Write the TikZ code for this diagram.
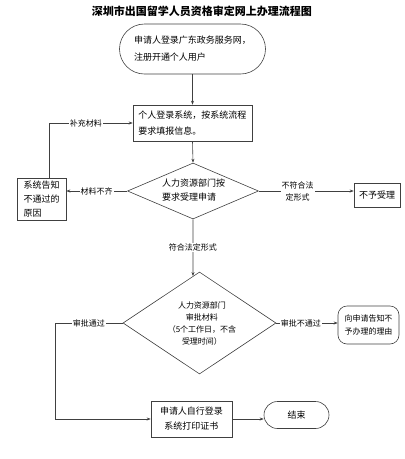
\documentclass[tikz,border=0pt]{standalone}
\usepackage{fontspec}
\setmainfont{Noto Sans CJK SC}
\usetikzlibrary{arrows.meta,shapes.geometric}
\begin{document}
\begin{tikzpicture}[x=1pt,y=-1pt,
  line/.style={draw=black!75, line width=0.6pt},
  arr/.style={line, -{Stealth[length=4pt,width=3pt]}},
  box/.style={draw=black!75, line width=0.6pt, rectangle, inner sep=0pt, align=center},
  dia/.style={draw=black!75, line width=0.6pt, diamond, inner sep=0pt},
  lab/.style={fill=white, inner sep=1pt, align=center, font=\fontsize{8}{12}\selectfont}
]
\useasboundingbox (0,0) rectangle (405,459);

\node[font=\bfseries\fontsize{11}{13}\selectfont] (title) at (202,11) {深圳市出国留学人员资格审定网上办理流程图};

\node[box, minimum width=146pt, minimum height=50pt, rounded corners=25pt, align=left,
  font=\fontsize{9}{17}\selectfont] (start) at (192.5,49) {申请人登录广东政务服务网，\\注册开通个人用户};

\node[box, minimum width=119pt, minimum height=36pt, align=left,
  font=\fontsize{9}{16}\selectfont] (fill) at (192.5,123) {个人登录系统，按系统流程\\要求填报信息。};

\node[dia, minimum width=131pt, minimum height=56pt] (d1) at (193,191) {};
\node[align=left, inner sep=0pt, font=\fontsize{9}{14}\selectfont] (t1) at (193.5,190) {人力资源部门按\\要求受理申请};

\node[box, minimum width=49pt, minimum height=42pt, align=left,
  font=\fontsize{9}{14}\selectfont] (why) at (41.5,199) {系统告知\\不通过的\\原因};

\node[box, minimum width=46pt, minimum height=24pt, font=\fontsize{9}{12}\selectfont] (no) at (377,195) {不予受理};

\node[dia, minimum width=153pt, minimum height=102pt] (d2) at (199.5,323) {};
\node[align=center, inner sep=0pt, font=\fontsize{8}{12}\selectfont] (t2) at (202,324) {人力资源部门\\审批材料\\（5个工作日，不含\\受理时间）};

\node[box, minimum width=61pt, minimum height=38pt, rounded corners=9pt,
  font=\fontsize{8}{13}\selectfont] (rej) at (368.5,325) {向申请告知不\\予办理的理由};

\node[box, minimum width=81pt, minimum height=36pt,
  font=\fontsize{9}{15}\selectfont] (print) at (191.5,419) {申请人自行登录\\系统打印证书};

\node[box, minimum width=65pt, minimum height=27pt, rounded corners=13.5pt,
  font=\fontsize{9}{12}\selectfont] (end) at (296.5,415) {结束};

\coordinate (lx) at (55,0);
\path (d2.north) -- (d2.west) coordinate[pos=0.085] (d2in);

\draw[arr] (start.south) -- (fill.north);
\draw[arr] (fill.south) -- (d1.north);
\draw[arr] (d1.west) -- node[lab]{材料不齐} (d1.west -| why.east);
\draw[arr] ([xshift=7.5pt]why.north) |- node[lab, pos=0.72]{补充材料} (fill.west);
\draw[arr] (d1.east) -- node[lab, pos=0.41]{不符合法\\定形式} (d1.east -| no.west);
\draw[arr] (d1.south) -- node[lab]{符合法定形式} (d2in);
\draw[arr] (d2.west) -- node[lab]{审批通过} (d2.west -| lx) |- (print.west);
\draw[arr] (d2.east) -- node[lab, pos=0.4]{审批不通过} (d2.east -| rej.west);
\draw[arr] (print.east) -- (print.east -| end.west);
\end{tikzpicture}
\end{document}
